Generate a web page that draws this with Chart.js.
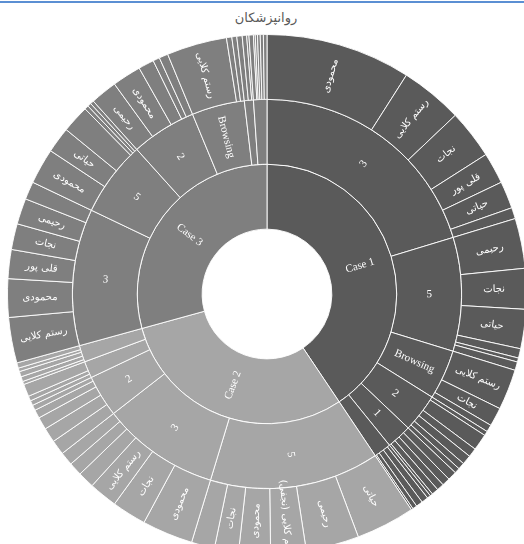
<!DOCTYPE html>
<html>
<head>
<meta charset="utf-8">
<script src="https://cdn.jsdelivr.net/npm/chart.js@4/dist/chart.umd.min.js"></script>
<style>
    html, body { margin: 0; padding: 0; width: 524px; height: 544px; overflow: hidden; background: #fff; }
    #topLine { position: absolute; left: 0; top: 1px; width: 524px; height: 2px; background: #5b8fd3; }
    #title { position: absolute; left: 4px; top: 10px; width: 524px; text-align: center; font: 13px 'DejaVu Sans', sans-serif; color: #595959; direction: rtl; }
    #sunburst { position: absolute; left: 7px; top: 34px; }
</style>
</head>
<body>
<div id="topLine"></div>
<div id="title">روانپزشکان</div>
<canvas id="sunburst" width="520" height="520"></canvas>
<script>
// inner ring: cases
const caseLabels = ['Case 1', 'Case 2', 'Case 3'];
const caseValues = [146.2, 108.4, 105.4];

// middle ring: groups inside each case (groupCase = parent case index)
const groupLabels = ['3', '5', 'Browsing', '2', '1', '',
                     '5', '3', '2', '', '',
                     '3', '5', '2', 'Browsing', '', ''];
const groupValues = [73.1, 34.0, 14.9, 11.5, 7.5, 5.2,
                     50.7, 35.2, 12.5, 5.0, 5.0,
                     40.9, 22.5, 19.5, 15.8, 2.7, 4.0];
const groupCase = [0, 0, 0, 0, 0, 0,
                   1, 1, 1, 1, 1,
                   2, 2, 2, 2, 2, 2];

// outer ring: names
const nameLabels = [
    'محمودی', 'رستم کلایی', 'نجات', 'قلی پور', 'حیاتی', '',
    'رحیمی', 'نجات', 'حیاتی', '', '', '',
    'رستم کلایی', 'نجات', '',
    '', '', '', '', '', '',
    '', '', '', '', '',
    '', '', '', '', '',

    'حیاتی', 'رحیمی', 'رستم کلایی (نجفی)', 'محمودی', 'نجات', '',
    'محمودی', 'نجات', 'رستم کلایی', '', '', '',
    '', '', '', '', '',
    '', '', '',
    '', '', '', '', '',

    'رستم کلایی', 'محمودی', 'قلی پور', 'نجات', 'رحیمی', '',
    'محمودی', 'حیاتی', '', '', '', '',
    'رحیمی', 'محمودی', '', '', '',
    'رستم کلایی', '', '',
    '', '', '',
    '', '', '', '', '', ''
];
const nameValues = [
    32.5, 14.0, 11.0, 7.0, 6.1, 2.5,
    11.2, 9.1, 8.8, 2.1, 0.9, 1.9,
    9.1, 4.2, 1.6,
    1.0, 3.7, 2.0, 2.1, 1.5, 1.2,
    2.0, 1.8, 1.6, 1.5, 0.6,
    0.8, 1.5, 1.5, 1.0, 0.4,

    13.2, 11.9, 7.9, 7.1, 5.4, 5.2,
    11.4, 7.7, 6.4, 3.7, 3.0, 3.0,
    3.3, 3.3, 2.8, 1.9, 1.2,
    1.1, 1.1, 2.8,
    0.7, 1.1, 1.2, 0.8, 1.2,

    10.2, 8.6, 6.5, 5.8, 5.8, 4.0,
    8.0, 5.8, 6.2, 0.9, 0.8, 0.8,
    6.0, 6.5, 3.5, 1.5, 2.0,
    13.5, 1.2, 1.1,
    1.2, 1.0, 0.5,
    1.0, 0.4, 0.5, 0.6, 0.7, 0.8
];
const nameCase = [
    0, 0, 0, 0, 0, 0,
    0, 0, 0, 0, 0, 0,
    0, 0, 0,
    0, 0, 0, 0, 0, 0,
    0, 0, 0, 0, 0,
    0, 0, 0, 0, 0,

    1, 1, 1, 1, 1, 1,
    1, 1, 1, 1, 1, 1,
    1, 1, 1, 1, 1,
    1, 1, 1,
    1, 1, 1, 1, 1,

    2, 2, 2, 2, 2, 2,
    2, 2, 2, 2, 2, 2,
    2, 2, 2, 2, 2,
    2, 2, 2,
    2, 2, 2,
    2, 2, 2, 2, 2, 2
];

const caseColors = ['#5a5a5a', '#a6a6a6', '#7f7f7f'];

const LATIN_FONT = "11px 'Liberation Serif', 'DejaVu Sans', serif";
const PERSIAN_FONT = "10px 'DejaVu Sans', sans-serif";

// draws each slice's text along the radius, flipped so it is never upside down
const sliceLabels = {
    id: 'sliceLabels',
    afterDatasetsDraw(chart) {
        const ctx = chart.ctx;
        chart.data.datasets.forEach((ds, di) => {
            const meta = chart.getDatasetMeta(di);
            meta.data.forEach((arc, i) => {
                const text = ds.sliceText[i];
                if (!text) return;
                const p = arc.getProps(['x', 'y', 'startAngle', 'endAngle', 'innerRadius', 'outerRadius'], true);
                const mid = (p.startAngle + p.endAngle) / 2;
                const r = (p.innerRadius + p.outerRadius) / 2;
                let rot = mid;
                if (Math.cos(mid) < -0.0001) rot += Math.PI;
                const persian = /[\u0600-\u06FF]/.test(text);
                ctx.save();
                ctx.translate(p.x + Math.cos(mid) * r, p.y + Math.sin(mid) * r);
                ctx.rotate(rot);
                ctx.font = persian ? PERSIAN_FONT : LATIN_FONT;
                ctx.direction = persian ? 'rtl' : 'ltr';
                ctx.fillStyle = '#ffffff';
                ctx.textAlign = 'center';
                ctx.textBaseline = 'middle';
                ctx.fillText(text, 0, 0);
                ctx.restore();
            });
        });
    }
};

document.addEventListener('DOMContentLoaded', function() {
    const ctx = document.getElementById('sunburst').getContext('2d');

    new Chart(ctx, {
        type: 'doughnut',
        data: {
            labels: nameLabels,
            datasets: [
                {
                    data: nameValues,
                    sliceText: nameLabels,
                    backgroundColor: nameCase.map(c => caseColors[c]),
                    borderColor: 'rgba(255,255,255,0.9)',
                    borderWidth: 1
                },
                {
                    data: groupValues,
                    sliceText: groupLabels,
                    backgroundColor: groupCase.map(c => caseColors[c]),
                    borderColor: 'rgba(255,255,255,0.9)',
                    borderWidth: 1
                },
                {
                    data: caseValues,
                    sliceText: caseLabels,
                    backgroundColor: caseColors,
                    borderColor: 'rgba(255,255,255,0.9)',
                    borderWidth: 1
                }
            ]
        },
        options: {
            responsive: false,
            animation: false,
            cutout: '25%',
            layout: { padding: 0 },
            plugins: {
                legend: { display: false },
                tooltip: { enabled: false },
                title: { display: false }
            }
        },
        plugins: [sliceLabels]
    });
});
</script>
</body>
</html>
